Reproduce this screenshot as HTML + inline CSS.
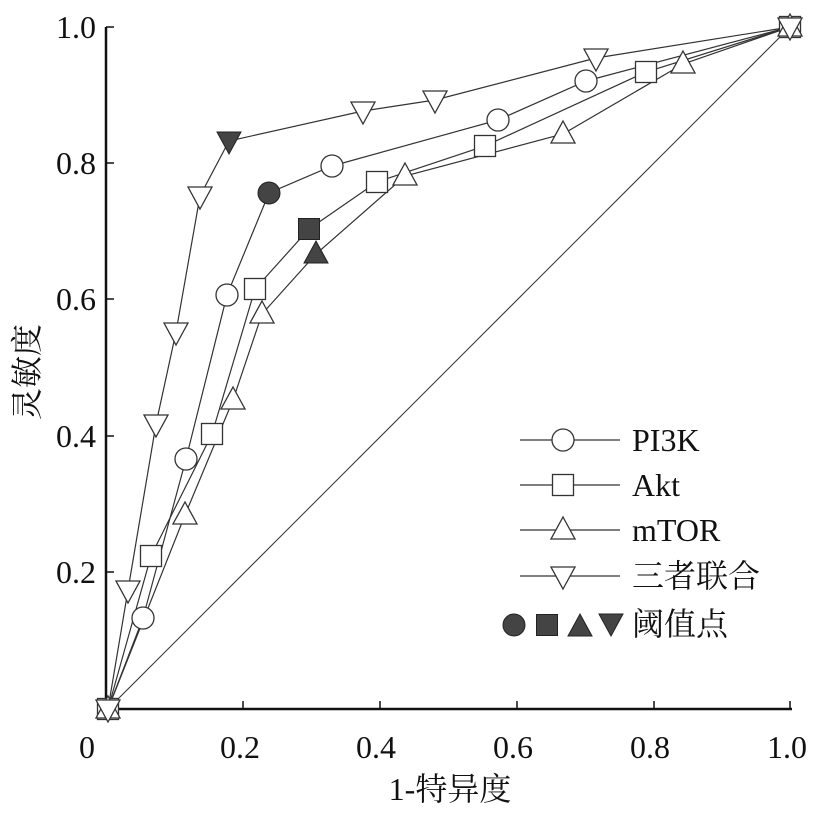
<!DOCTYPE html>
<html><head><meta charset="utf-8"><style>
body{margin:0;background:#fff}
text{font-family:"Liberation Serif","Noto Serif CJK SC",serif;fill:#111}
</style></head><body>
<svg width="823" height="812" viewBox="0 0 823 812" xmlns="http://www.w3.org/2000/svg">
<defs>
<g id="c"><circle r="11" fill="#fff" stroke="#333" stroke-width="1.3"/></g>
<g id="s"><rect x="-10.5" y="-10.5" width="21" height="21" fill="#fff" stroke="#333" stroke-width="1.3"/></g>
<g id="u"><polygon points="0,-13 12,9 -12,9" fill="#fff" stroke="#333" stroke-width="1.3"/></g>
<g id="d"><polygon points="0,13 12,-9 -12,-9" fill="#fff" stroke="#333" stroke-width="1.3"/></g>
<g id="cf"><circle r="11" fill="#444" stroke="#222"/></g>
<g id="sf"><rect x="-10.5" y="-10.5" width="21" height="21" fill="#444" stroke="#222"/></g>
<g id="uf"><polygon points="0,-13 12,9 -12,9" fill="#444" stroke="#222"/></g>
<g id="df"><polygon points="0,13 12,-9 -12,-9" fill="#444" stroke="#222"/></g>
</defs>
<line x1="106" y1="27" x2="106" y2="710" stroke="#111" stroke-width="2.5"/>
<line x1="105" y1="709" x2="792" y2="709" stroke="#111" stroke-width="2.5"/>
<g stroke="#111" stroke-width="1.5">
<line x1="106" y1="27" x2="114" y2="27"/><line x1="106" y1="163" x2="114" y2="163"/><line x1="106" y1="299" x2="114" y2="299"/><line x1="106" y1="436" x2="114" y2="436"/><line x1="106" y1="572" x2="114" y2="572"/>
<line x1="243" y1="709" x2="243" y2="701"/><line x1="380" y1="709" x2="380" y2="701"/><line x1="517" y1="709" x2="517" y2="701"/><line x1="654" y1="709" x2="654" y2="701"/><line x1="790" y1="709" x2="790" y2="701"/>
</g>
<g font-size="32" text-anchor="end">
<text x="96" y="38">1.0</text><text x="96" y="174">0.8</text><text x="96" y="310">0.6</text><text x="96" y="447">0.4</text><text x="96" y="583">0.2</text>
</g>
<g font-size="32" text-anchor="middle">
<text x="87" y="758">0</text><text x="240" y="758">0.2</text><text x="376" y="758">0.4</text><text x="513" y="758">0.6</text><text x="650" y="758">0.8</text><text x="787" y="758">1.0</text>
</g>
<text x="450" y="800" font-size="32" text-anchor="middle">1-特异度</text>
<text transform="translate(38,372) rotate(-90)" font-size="32" text-anchor="middle">灵敏度</text>
<line x1="108" y1="709" x2="790" y2="27" stroke="#333" stroke-width="1"/>
<g fill="none" stroke="#333" stroke-width="1.2">
<polyline points="108,709 143,618 186,459 227,295 269,193 332,166 498,120 586,81 790,27"/>
<polyline points="108,709 151,556 212,434 255,289 309,229 377,182 485,146 646,72 790,27"/>
<polyline points="108,709 185,515 233,400 262,314 316,254 405,176 563,134 683,64 790,27"/>
<polyline points="108,709 128,590 156,424 176,332 200,196 229,141 363,111 435,100 596,58 790,27"/>
</g>
<use href="#c" x="143" y="618"/><use href="#c" x="186" y="459"/><use href="#c" x="227" y="295"/><use href="#cf" x="269" y="193"/><use href="#c" x="332" y="166"/><use href="#c" x="498" y="120"/><use href="#c" x="586" y="81"/>
<use href="#s" x="151" y="556"/><use href="#s" x="212" y="434"/><use href="#s" x="255" y="289"/><use href="#sf" x="309" y="229"/><use href="#s" x="377" y="182"/><use href="#s" x="485" y="146"/><use href="#s" x="646" y="72"/>
<use href="#u" x="185" y="515"/><use href="#u" x="233" y="400"/><use href="#u" x="262" y="314"/><use href="#uf" x="316" y="254"/><use href="#u" x="405" y="176"/><use href="#u" x="563" y="134"/><use href="#u" x="683" y="64"/>
<use href="#d" x="128" y="590"/><use href="#d" x="156" y="424"/><use href="#d" x="176" y="332"/><use href="#d" x="200" y="196"/><use href="#df" x="229" y="141"/><use href="#d" x="363" y="111"/><use href="#d" x="435" y="100"/><use href="#d" x="596" y="58"/>
<use href="#s" x="108" y="709"/><use href="#u" x="108" y="709"/><use href="#d" x="108" y="709"/>
<use href="#s" x="790" y="27"/><use href="#u" x="790" y="27"/><use href="#d" x="790" y="27"/>
<g stroke="#333" stroke-width="1.2">
<line x1="520" y1="440" x2="620" y2="440"/><line x1="520" y1="485" x2="620" y2="485"/><line x1="520" y1="530" x2="620" y2="530"/><line x1="520" y1="576" x2="620" y2="576"/>
</g>
<use href="#c" x="563" y="440"/><use href="#s" x="563" y="485"/><use href="#u" x="563" y="530"/><use href="#d" x="563" y="576"/>
<g font-size="32">
<text x="632" y="451">PI3K</text><text x="632" y="496">Akt</text><text x="632" y="541">mTOR</text><text x="632" y="587">三者联合</text><text x="632" y="635">阈值点</text>
</g>
<use href="#cf" x="514" y="625"/><use href="#sf" x="547" y="625"/><use href="#uf" x="580" y="627"/><use href="#df" x="611" y="623"/>
</svg>
</body></html>
